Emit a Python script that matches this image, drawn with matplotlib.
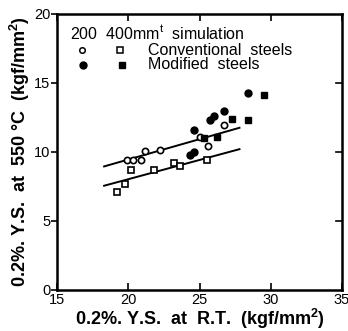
import matplotlib
matplotlib.use("Agg")
import matplotlib.pyplot as plt

plt.rcParams['font.family'] = ['Liberation Sans', 'DejaVu Sans']
plt.rcParams['mathtext.fontset'] = 'custom'
plt.rcParams['mathtext.rm'] = 'Liberation Sans'
plt.rcParams['mathtext.bf'] = 'Liberation Sans:bold'

# conventional steels, 200 mm simulation (open circles)
conv200_x = [19.9, 20.3, 20.9, 21.2, 22.2, 25.0, 25.6, 26.7]
conv200_y = [9.4, 9.4, 9.4, 10.1, 10.15, 11.1, 10.45, 11.95]
# conventional steels, 400 mm simulation (open squares)
conv400_x = [19.2, 19.8, 20.2, 21.8, 23.2, 23.6, 25.5]
conv400_y = [7.1, 7.7, 8.7, 8.7, 9.2, 9.0, 9.4]
# modified steels, 200 mm (filled circles)
mod200_x = [24.3, 24.6, 24.6, 25.7, 26.0, 26.7, 28.4]
mod200_y = [9.75, 10.0, 11.6, 12.3, 12.6, 13.0, 14.3]
# modified steels, 400 mm (filled squares)
mod400_x = [25.3, 26.2, 27.3, 28.4, 29.5]
mod400_y = [11.0, 11.1, 12.4, 12.3, 14.1]
# regression lines
fit200_x = [18.3, 27.8]
fit200_y = [8.95, 11.75]
fit400_x = [18.3, 27.8]
fit400_y = [7.55, 10.2]

fig = plt.figure(figsize=(3.48, 3.31), dpi=100)
ax = fig.add_axes([0.164, 0.124, 0.819, 0.834])

ax.plot(fit200_x, fit200_y, color='black', lw=1.4)
ax.plot(fit400_x, fit400_y, color='black', lw=1.4)
ms = 4.5
ax.plot(conv200_x, conv200_y, 'o', mfc='white', mec='black', mew=1.2, ms=ms)
ax.plot(conv400_x, conv400_y, 's', mfc='white', mec='black', mew=1.2, ms=ms)
ax.plot(mod200_x, mod200_y, 'o', color='black', ms=ms + 0.5)
ax.plot(mod400_x, mod400_y, 's', color='black', ms=ms + 0.5)

ax.set_xlim(15, 35)
ax.set_ylim(0, 20)
ax.set_xticks([15, 20, 25, 30, 35])
ax.set_yticks([0, 5, 10, 15, 20])
ax.tick_params(axis='x', direction='in', top=True, length=5, width=1.2,
               labelsize=10.5, pad=2)
ax.tick_params(axis='y', direction='out', length=4, width=1.2, labelsize=10.5, pad=1)
ax.tick_params(axis='y', which='both', right=False)
for y in [5, 10, 15]:
    ax.plot([35, 34.6], [y, y], color='black', lw=1.2, clip_on=False)
for s in ax.spines.values():
    s.set_linewidth(1.8)

ax.set_xlabel('0.2%. Y.S.  at  R.T.  (kgf/mm$\\mathbf{^2}$)', fontsize=13,
              fontweight='bold', labelpad=0)
ax.set_ylabel('0.2%. Y.S.  at  550 °C  (kgf/mm$\\mathbf{^2}$)', fontsize=13,
              fontweight='bold', labelpad=1)

# legend
ax.text(0.045, 0.93, '200  400mm$^{\\mathrm{t}}$  simulation', transform=ax.transAxes,
        fontsize=11.5, va='center')
ax.plot([0.087], [0.868], 'o', mfc='white', mec='black', mew=1.1, ms=4,
        transform=ax.transAxes)
ax.plot([0.22], [0.868], 's', mfc='white', mec='black', mew=1.1, ms=4,
        transform=ax.transAxes)
ax.plot([0.092], [0.815], 'o', color='black', ms=5, transform=ax.transAxes)
ax.plot([0.227], [0.815], 's', color='black', ms=5, transform=ax.transAxes)
ax.text(0.318, 0.868, 'Conventional  steels', transform=ax.transAxes,
        fontsize=11.5, va='center')
ax.text(0.318, 0.815, 'Modified  steels', transform=ax.transAxes,
        fontsize=11.5, va='center')

fig.savefig('out.png', dpi=100)
